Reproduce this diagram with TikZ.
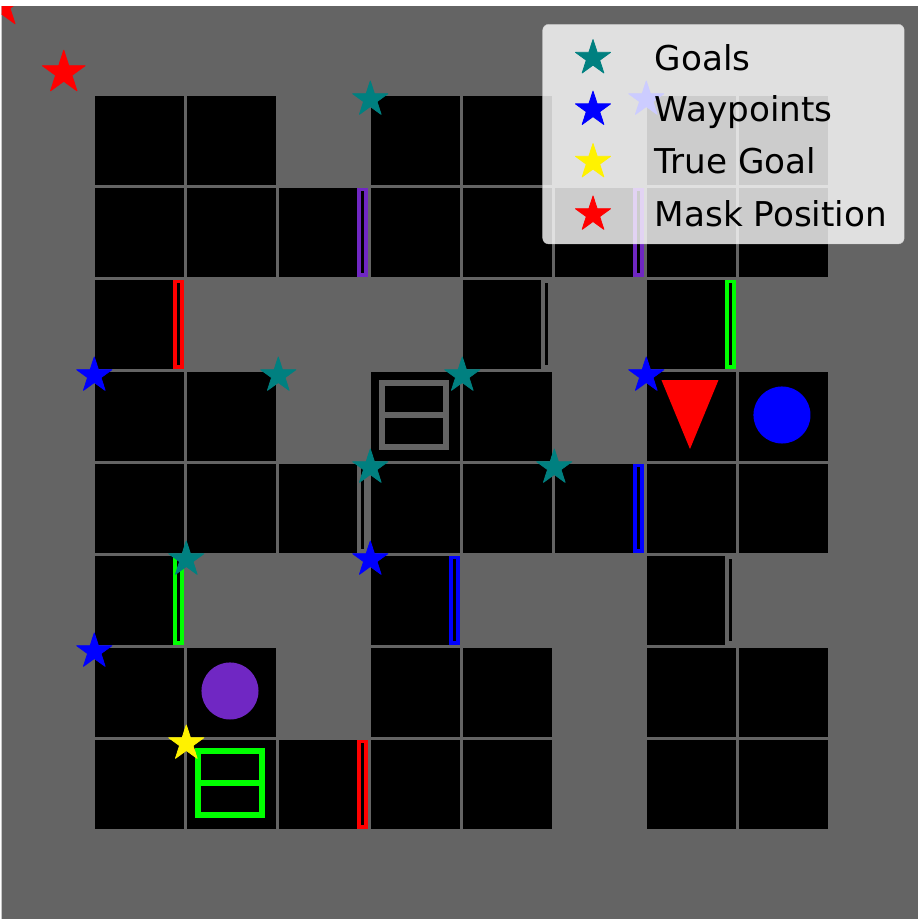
\documentclass[tikz,border=0pt]{standalone}
\usepackage{fontspec}
\setmainfont{DejaVu Sans}
\usetikzlibrary{shapes.geometric}
\definecolor{mgpurple}{RGB}{112,39,195}
\definecolor{mggrey}{RGB}{100,100,100}
\definecolor{mplteal}{RGB}{0,128,128}

\begin{document}
\begin{tikzpicture}[x=92pt,y=-92pt,
  pstar/.style={star,star points=5,star point ratio=2.618,inner sep=0pt,minimum size=37pt,
    fill=#1,draw=#1,line width=.8pt,line join=round},
  lbl/.style={anchor=base west,inner sep=0pt,font=\fontsize{34.2}{40}\selectfont}]
  \useasboundingbox[fill=white] (0,-.011) rectangle (10.033,9.978);
  \begin{scope}
    \clip (.018,.062) rectangle (9.978,9.978);
    \fill[mggrey] (0,0) rectangle (10,10);
    \foreach \y/\xs in {1/{1,2,4,5,7,8},2/{1,2,3,4,5,6,7,8},3/{1,5,7},4/{1,2,4,5,7,8},
      5/{1,2,3,4,5,6,7,8},6/{1,4,7},7/{1,2,4,5,7,8},8/{1,2,3,4,5,7,8}}
      {\foreach \x in \xs {\fill[black] (\x+.032,\y+.032) rectangle (\x+1,\y+1);}}
    \foreach \x/\y/\k in {3/2/mgpurple,6/2/mgpurple,1/3/red,5/3/mggrey,7/3/green,3/5/mggrey,
      6/5/blue,1/6/green,4/6/blue,7/6/mggrey,3/8/red}
      {\fill[\k] (\x+.88,\y+.032) rectangle (\x+1,\y+1);
       \fill[black] (\x+.92,\y+.07) rectangle (\x+.96,\y+.96);}
    \foreach \x/\y/\k in {4/4/mggrey,2/8/green}
      {\fill[\k] (\x+.12,\y+.12) rectangle (\x+.88,\y+.88);
       \fill[black] (\x+.18,\y+.18) rectangle (\x+.82,\y+.82);
       \fill[\k] (\x+.16,\y+.47) rectangle (\x+.84,\y+.53);}
    \fill[blue] (8.5,4.5) circle (.31);
    \fill[mgpurple] (2.5,7.5) circle (.31);
    \fill[red] (7.19,4.12) -- (7.81,4.12) -- (7.5,4.87) -- cycle;
    \foreach \x/\y [count=\i] in {4/1,3/4,5/4,4/5,6/5,2/6}
      {\node[pstar=mplteal] (goal\i) at (\x+.025,\y+.07) {};}
    \foreach \x/\y [count=\i] in {7/1,1/4,7/4,4/6,1/7}
      {\node[pstar=blue] (wp\i) at (\x+.025,\y+.07) {};}
    \node[pstar=yellow] (truegoal) at (2.025,8.07) {};
    \node[pstar=red,minimum size=45pt] (mask) at (.693,.779) {};
    \node[pstar=red,minimum size=45pt] (mask0) at (.02,.05) {};
    \draw[rounded corners=6pt,fill=white,fill opacity=.8,draw=black!20,draw opacity=.8]
      (5.899,.253) rectangle (9.829,2.641);
    \foreach \y/\k/\t [count=\i] in {.62/mplteal/Goals,1.18/blue/Waypoints,1.75/yellow/True Goal,2.32/red/Mask Position}
      {\node[pstar=\k] (key\i) at (6.446,\y) {};
       \node[lbl] (txt\i) at (7.115,\y+.13) {\t};}
  \end{scope}
\end{tikzpicture}
\end{document}
